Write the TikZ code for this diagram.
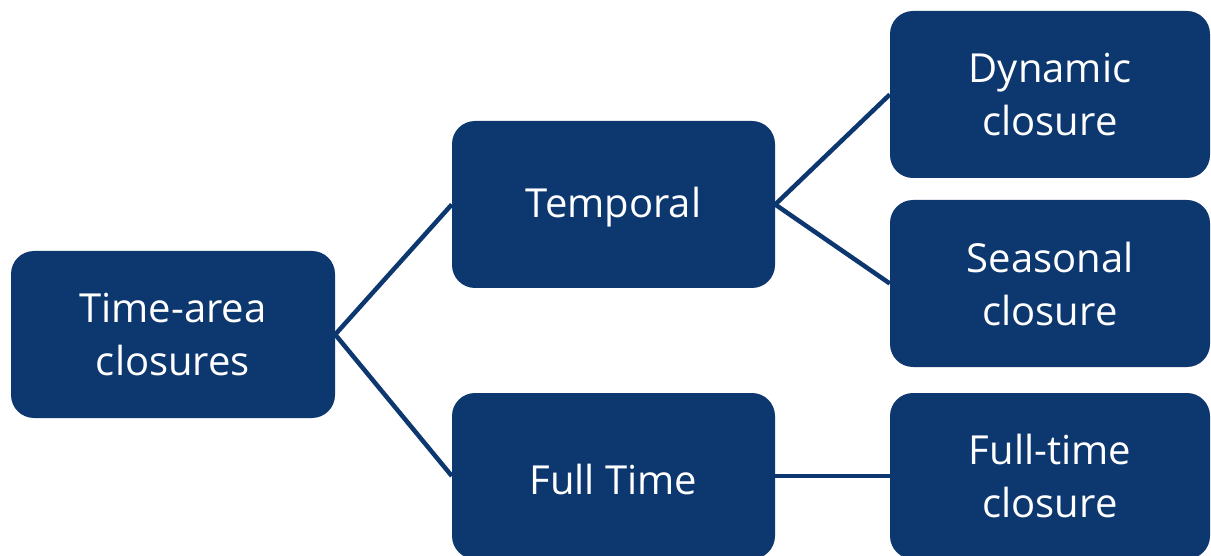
\documentclass[tikz,border=0pt]{standalone}
\usepackage{fontspec}
\setmainfont{Open Sans}
\definecolor{navy}{RGB}{13,55,111}
\newcommand{\lowertext}[1]{\raisebox{-3pt}[\height][\depth]{#1}}
\begin{document}
\begin{tikzpicture}[x=1pt,y=-1pt,
  box/.style={fill=navy, rounded corners=23pt, text=white, align=center,
    font=\fontsize{40}{53}\selectfont, minimum width=323pt, minimum height=167pt, inner sep=0pt},
  rbox/.style={box, minimum width=320pt},
  link/.style={draw=navy, line width=4.5pt}]
\useasboundingbox (0,0) rectangle (1211,556);
\clip (0,0) rectangle (1211,556);
\node[box, minimum width=324pt] (root) at (173,334.5) {Time-area\\closures};
\node[box] (temporal) at (613.5,204.5) {\lowertext{Temporal}};
\node[box, minimum height=166pt] (fulltime) at (613.5,476) {\lowertext{Full Time}};
\node[rbox] (dynamic) at (1050,94.5) {Dynamic\\closure};
\node[rbox] (seasonal) at (1050,283.5) {Seasonal\\closure};
\node[rbox, minimum height=166pt] (ftclosure) at (1050,476) {Full-time\\closure};
\draw[link] (root.east) -- (temporal.west);
\draw[link] (root.east) -- (fulltime.west);
\draw[link] (temporal.east) -- (dynamic.west);
\draw[link] (temporal.east) -- (seasonal.west);
\draw[link] (fulltime.east) -- (ftclosure.west);
\end{tikzpicture}
\end{document}
